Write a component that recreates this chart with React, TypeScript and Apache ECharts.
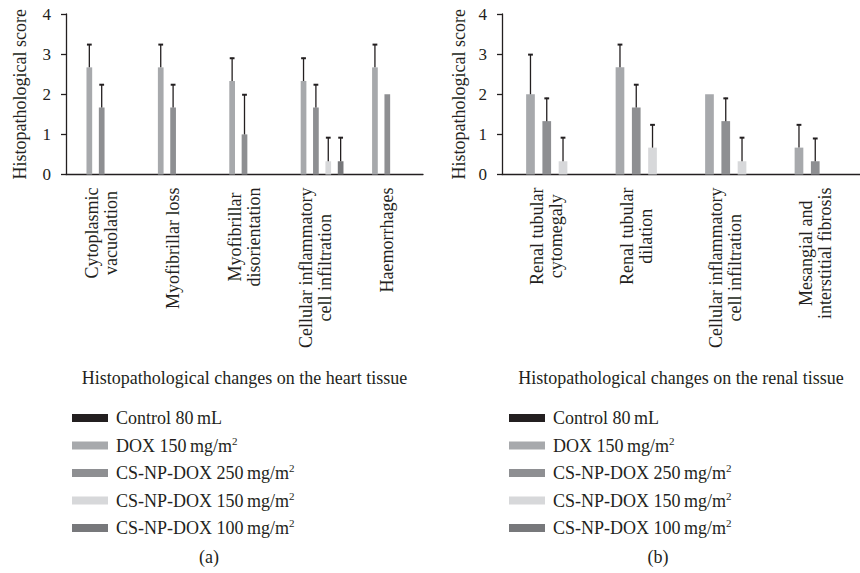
import React, { useEffect, useRef } from "react";
import * as echarts from "echarts";

const FONT = "Liberation Serif";
const INK = "#231f20";

const groupNames = [
  "Control 80\u2009mL",
  "DOX 150\u2009mg/m2",
  "CS-NP-DOX 250\u2009mg/m2",
  "CS-NP-DOX 150\u2009mg/m2",
  "CS-NP-DOX 100\u2009mg/m2",
];
const groupColors = ["#231f20", "#a7a9ac", "#8e8f92", "#d7d8da", "#77787b"];

const heartCategories = [
  "Cytoplasmic\nvacuolation",
  "Myofibrillar loss",
  "Myofibrillar\ndisorientation",
  "Cellular inflammatory\ncell infiltration",
  "Haemorrhages",
];
const heartMeans = [
  [0, 0, 0, 0, 0],
  [2.67, 2.67, 2.33, 2.33, 2.67],
  [1.67, 1.67, 1.0, 1.67, 2.0],
  [0, 0, 0, 0.33, 0],
  [0, 0, 0, 0.33, 0],
];
const heartSD = [
  [0, 0, 0, 0, 0],
  [0.58, 0.58, 0.58, 0.58, 0.58],
  [0.58, 0.58, 1.0, 0.58, 0],
  [0, 0, 0, 0.6, 0],
  [0, 0, 0, 0.6, 0],
];

const renalCategories = [
  "Renal tubular\ncytomegaly",
  "Renal tubular\ndilation",
  "Cellular inflammatory\ncell infiltration",
  "Mesangial and\ninterstitial fibrosis",
];
const renalMeans = [
  [0, 0, 0, 0],
  [2.0, 2.67, 2.0, 0.67],
  [1.33, 1.67, 1.33, 0.33],
  [0.33, 0.67, 0.33, 0],
  [0, 0, 0, 0],
];
const renalSD = [
  [0, 0, 0, 0],
  [1.0, 0.58, 0, 0.58],
  [0.58, 0.58, 0.58, 0.58],
  [0.6, 0.58, 0.6, 0],
  [0, 0, 0, 0],
];

const yTicks = [0, 1, 2, 3, 4];

function legendLabel(name: string) {
  if (name.endsWith("m2")) return name.slice(0, -1) + "{sup|2}";
  return name;
}

function buildPanel(
  idx: number,
  means: number[][],
  sds: number[][],
  barWidth: number,
  barGap: number
) {
  const series: any[] = [];
  means.forEach((vals, s) => {
    series.push({
      type: "bar",
      name: groupNames[s],
      xAxisIndex: idx,
      yAxisIndex: idx,
      data: vals,
      barWidth,
      barGap: barGap * 100 + "%",
      itemStyle: { color: groupColors[s] },
      silent: true,
    });
  });
  const errData: number[][] = [];
  sds.forEach((arr, s) => {
    arr.forEach((sd, c) => {
      if (sd > 0) errData.push([c, means[s][c], means[s][c] + sd, s]);
    });
  });
  const step = barWidth * (1 + barGap);
  series.push({
    type: "custom",
    xAxisIndex: idx,
    yAxisIndex: idx,
    data: errData,
    silent: true,
    z: 5,
    renderItem: (params: any, api: any) => {
      const c = api.value(0);
      const p0 = api.coord([c, api.value(1)]);
      const p1 = api.coord([c, api.value(2)]);
      const x = p0[0] + (api.value(3) - 2) * step;
      return {
        type: "group",
        children: [
          {
            type: "line",
            shape: { x1: x, y1: p0[1], x2: x, y2: p1[1] },
            style: { stroke: INK, lineWidth: 1.3 },
          },
          {
            type: "line",
            shape: { x1: x - 2.4, y1: p1[1] + 0.5, x2: x + 2.4, y2: p1[1] + 0.5 },
            style: { stroke: INK, lineWidth: 2 },
          },
        ],
      };
    },
  });
  return series;
}

export default function App() {
  const ref = useRef<HTMLDivElement>(null);
  useEffect(() => {
    if (!ref.current) return;
    const chart = echarts.init(ref.current, null, { renderer: "svg" });

    const grids = [
      { left: 66, top: 14, width: 357, height: 160.5 },
      { left: 502, top: 14, width: 370, height: 160.5 },
    ];
    const cats = [heartCategories, renalCategories];
    const xNames = [
      "Histopathological changes on the heart tissue",
      "Histopathological changes on the renal tissue",
    ];
    const yNameGaps = [37, 34];

    const xAxis = cats.map((c, i) => ({
      type: "category",
      gridIndex: i,
      data: c,
      name: xNames[i],
      nameLocation: "middle",
      nameGap: 194,
      nameTextStyle: { fontFamily: FONT, fontSize: 18, color: INK },
      axisLine: { lineStyle: { color: INK, width: 1.3 } },
      axisTick: { alignWithLabel: true, length: 4, lineStyle: { color: INK, width: 1.3 } },
      axisLabel: {
        rotate: 90,
        margin: 13,
        interval: 0,
        formatter: (v: string) =>
          v
            .split("\n")
            .map((l) => "{c|" + l + "}")
            .join("\n"),
        rich: {
          c: { align: "center", fontFamily: FONT, fontSize: 18, color: INK, lineHeight: 19 },
        },
      },
    }));

    const yAxis = [0, 1].map((i) => ({
      type: "value",
      gridIndex: i,
      min: yTicks[0],
      max: yTicks[yTicks.length - 1],
      interval: 1,
      name: "Histopathological score",
      nameLocation: "middle",
      nameGap: yNameGaps[i],
      nameTextStyle: { fontFamily: FONT, fontSize: 18, color: INK },
      splitLine: { show: false },
      axisLine: { show: true, lineStyle: { color: INK, width: 1.3 } },
      axisTick: { show: true, length: 5, lineStyle: { color: INK, width: 1.3 } },
      axisLabel: { fontFamily: FONT, fontSize: 17, color: INK, margin: 15 },
    }));

    const legends = [67, 504].map((left) => ({
      orient: "vertical",
      left,
      top: 404,
      itemWidth: 36,
      itemHeight: 8,
      itemGap: 8,
      icon: "rect",
      selectedMode: false,
      data: groupNames,
      formatter: legendLabel,
      textStyle: {
        fontFamily: FONT,
        fontSize: 18,
        color: INK,
        lineHeight: 18,
        padding: [0, 0, 0, 3],
        rich: {
          sup: { fontFamily: FONT, fontSize: 11, color: INK, padding: [0, 0, 10, 0] },
        },
      },
    }));

    chart.setOption({
      animation: false,
      backgroundColor: "#ffffff",
      grid: grids,
      xAxis,
      yAxis,
      legend: legends,
      series: [
        ...buildPanel(0, heartMeans, heartSD, 5.7, 1.17),
        ...buildPanel(1, renalMeans, renalSD, 8.7, 0.87),
      ],
      graphic: [
        {
          type: "text",
          x: 209,
          y: 557,
          style: { text: "(a)", font: `18px "${FONT}"`, fill: INK, textAlign: "center", textVerticalAlign: "middle" },
        },
        {
          type: "text",
          x: 658,
          y: 557,
          style: { text: "(b)", font: `18px "${FONT}"`, fill: INK, textAlign: "center", textVerticalAlign: "middle" },
        },
      ],
    });
    return () => chart.dispose();
  }, []);
  return (
    <div
      ref={ref}
      style={{ position: "absolute", left: 0, top: 0, width: 860, height: 573, background: "#fff" }}
    />
  );
}
